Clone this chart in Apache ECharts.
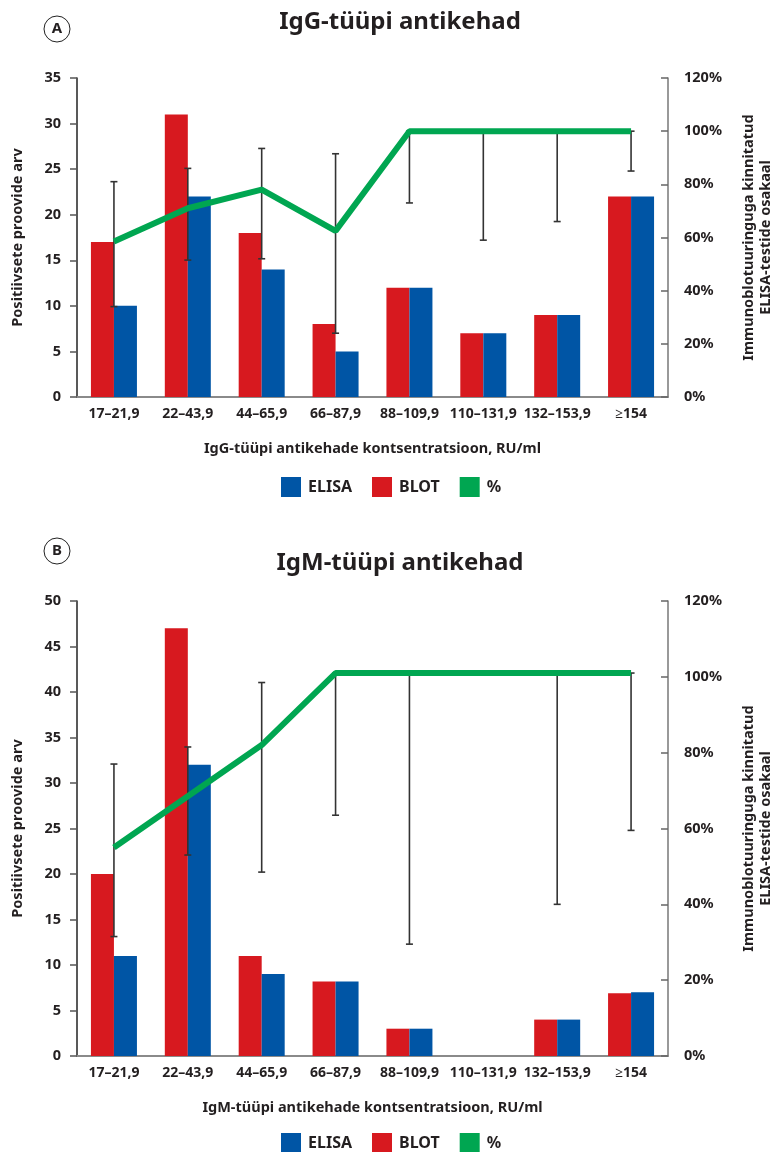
<!DOCTYPE html>
<html>
<head>
<meta charset="utf-8">
<script src="https://cdn.jsdelivr.net/npm/echarts@6/dist/echarts.min.js"></script>
<style>
  html, body { margin: 0; padding: 0; background: #fff; }
  #chart { width: 782px; height: 1152px; }
</style>
</head>
<body>
<div id="chart"></div>
<script>
// kategooriad (RU/ml vahemikud)
var categories = ['17–21,9', '22–43,9', '44–65,9', '66–87,9', '88–109,9', '110–131,9', '132–153,9', '≥154'];

// A: IgG
var iggElisa = [10, 22, 14, 5, 12, 7, 9, 22];
var iggBlot = [17, 31, 18, 8, 12, 7, 9, 22];
var iggPct = [58.5, 71, 78, 62.5, 100, 100, 100, 100];
var iggErrLow = [34, 51.5, 52, 24, 73, 59, 66, 85];
var iggErrHigh = [81, 86, 93.5, 91.5, 100, 100, 100, 100];

// B: IgM
var igmElisa = [11, 32, 9, 8.2, 3, 0, 4, 7];
var igmBlot = [20, 47, 11, 8.2, 3, 0, 4, 6.9];
var igmPct = [55, 68.5, 82, 101, 101, 101, 101, 101];
var igmErrLow = [31.5, 53, 48.5, 63.5, 29.5, null, 40, 59.5];
var igmErrHigh = [77, 81.5, 98.5, 101, 101, null, 101, 101];

var RED = '#D7191F', BLUE = '#0055A5', GREEN = '#00A651', INK = '#231F20';
var FONT = 'Noto Sans';

function errData(lo, hi) {
    var out = [];
    for (var i = 0; i < lo.length; i++) {
        if (lo[i] == null) continue;
        out.push([i, lo[i], hi[i]]);
    }
    return out;
}

function renderErr(params, api) {
    var i = api.value(0);
    var a = api.coord([i, api.value(1)]);
    var b = api.coord([i, api.value(2)]);
    var w = 3.5;
    var st = { stroke: '#333', lineWidth: 1.6 };
    return {
        type: 'group',
        children: [
            { type: 'line', shape: { x1: a[0], y1: a[1], x2: b[0], y2: b[1] }, style: st },
            { type: 'line', shape: { x1: a[0] - w, y1: a[1], x2: a[0] + w, y2: a[1] }, style: st },
            { type: 'line', shape: { x1: b[0] - w, y1: b[1], x2: b[0] + w, y2: b[1] }, style: st }
        ]
    };
}

function xAxisFor(grid, name) {
    return {
        type: 'category',
        gridIndex: grid,
        data: categories,
        axisLine: { lineStyle: { color: '#8a8a8a', width: 2 } },
        axisTick: { show: false },
        axisLabel: { color: INK, fontFamily: FONT, fontWeight: 'bold', fontSize: 14, margin: 10, interval: 0 },
        name: name,
        nameLocation: 'middle',
        nameGap: 44,
        nameTextStyle: { color: INK, fontFamily: FONT, fontWeight: 'bold', fontSize: 14.5 }
    };
}

function leftAxis(grid, max) {
    return {
        type: 'value',
        gridIndex: grid,
        position: 'left',
        min: 0, max: max, interval: 5,
        splitLine: { show: false },
        axisLine: { show: true, lineStyle: { color: '#222', width: 1.5 } },
        axisTick: { show: true, length: 7, lineStyle: { color: '#555', width: 1.5 } },
        axisLabel: { color: INK, fontFamily: FONT, fontWeight: 'bold', fontSize: 14.5, margin: 16 },
        name: 'Positiivsete proovide arv',
        nameLocation: 'middle',
        nameRotate: 90,
        nameGap: 52,
        nameTextStyle: { color: INK, fontFamily: FONT, fontWeight: 'bold', fontSize: 14.5 }
    };
}

function rightAxis(grid) {
    return {
        type: 'value',
        gridIndex: grid,
        position: 'right',
        min: 0, max: 120, interval: 20,
        splitLine: { show: false },
        axisLine: { show: true, lineStyle: { color: '#777', width: 1.5 } },
        axisTick: { show: true, length: 7, inside: true, lineStyle: { color: '#666', width: 1.5 } },
        axisLabel: { color: INK, fontFamily: FONT, fontWeight: 'bold', fontSize: 14.5, margin: 16, formatter: '{value}%' },
        name: 'Immunoblotuuringuga kinnitatud\nELISA-testide osakaal',
        nameLocation: 'middle',
        nameRotate: 90,
        nameGap: 72,
        nameTextStyle: { color: INK, fontFamily: FONT, fontWeight: 'bold', fontSize: 14.5, lineHeight: 17 }
    };
}

function legendFor(top) {
    return {
        top: top,
        left: 276,
        itemWidth: 20,
        itemHeight: 20,
        itemGap: 20,
        icon: 'rect',
        data: ['ELISA', 'BLOT', '%'],
        textStyle: { color: INK, fontFamily: FONT, fontWeight: 'bold', fontSize: 16, padding: [0, 0, 0, 2] },
        selectedMode: false
    };
}

function badge(cx, cy, letter) {
    return [
        { type: 'circle', shape: { cx: cx, cy: cy, r: 13 }, style: { fill: '#fff', stroke: '#222', lineWidth: 1 } },
        { type: 'text', x: cx, y: cy, style: { text: letter, fill: INK, font: 'bold 15px "Noto Sans"', align: 'center', verticalAlign: 'middle' } }
    ];
}

var chart = echarts.init(document.getElementById('chart'));

var option = {
    animation: false,
    graphic: badge(57, 29, 'A').concat(badge(57, 551, 'B')).concat([
        { type: 'text', x: 400, y: 22, style: { text: 'IgG-tüüpi antikehad', fill: INK, font: 'bold 24px "Noto Sans"', align: 'center', verticalAlign: 'middle' } },
        { type: 'text', x: 400, y: 563, style: { text: 'IgM-tüüpi antikehad', fill: INK, font: 'bold 24px "Noto Sans"', align: 'center', verticalAlign: 'middle' } }
    ]),
    legend: [legendFor(472), legendFor(1128)],
    grid: [
        { left: 77, width: 592, top: 78, height: 319 },
        { left: 77, width: 592, top: 601, height: 455 }
    ],
    xAxis: [
        xAxisFor(0, 'IgG-tüüpi antikehade kontsentratsioon, RU/ml'),
        xAxisFor(1, 'IgM-tüüpi antikehade kontsentratsioon, RU/ml')
    ],
    yAxis: [leftAxis(0, 35), rightAxis(0), leftAxis(1, 50), rightAxis(1)],
    series: [
        { name: 'BLOT', type: 'bar', xAxisIndex: 0, yAxisIndex: 0, data: iggBlot, barWidth: 23, barGap: '0%', itemStyle: { color: RED } },
        { name: 'ELISA', type: 'bar', xAxisIndex: 0, yAxisIndex: 0, data: iggElisa, barWidth: 23, barGap: '0%', itemStyle: { color: BLUE } },
        { name: 'err-a', type: 'custom', xAxisIndex: 0, yAxisIndex: 1, data: errData(iggErrLow, iggErrHigh), renderItem: renderErr, z: 3 },
        { name: '%', type: 'line', xAxisIndex: 0, yAxisIndex: 1, data: iggPct, symbol: 'none', lineStyle: { color: GREEN, width: 6 }, itemStyle: { color: GREEN }, z: 4 },

        { name: 'BLOT', type: 'bar', xAxisIndex: 1, yAxisIndex: 2, data: igmBlot, barWidth: 23, barGap: '0%', itemStyle: { color: RED } },
        { name: 'ELISA', type: 'bar', xAxisIndex: 1, yAxisIndex: 2, data: igmElisa, barWidth: 23, barGap: '0%', itemStyle: { color: BLUE } },
        { name: 'err-b', type: 'custom', xAxisIndex: 1, yAxisIndex: 3, data: errData(igmErrLow, igmErrHigh), renderItem: renderErr, z: 3 },
        { name: '%', type: 'line', xAxisIndex: 1, yAxisIndex: 3, data: igmPct, symbol: 'none', lineStyle: { color: GREEN, width: 6 }, itemStyle: { color: GREEN }, z: 4 }
    ]
};

chart.setOption(option);
</script>
</body>
</html>
